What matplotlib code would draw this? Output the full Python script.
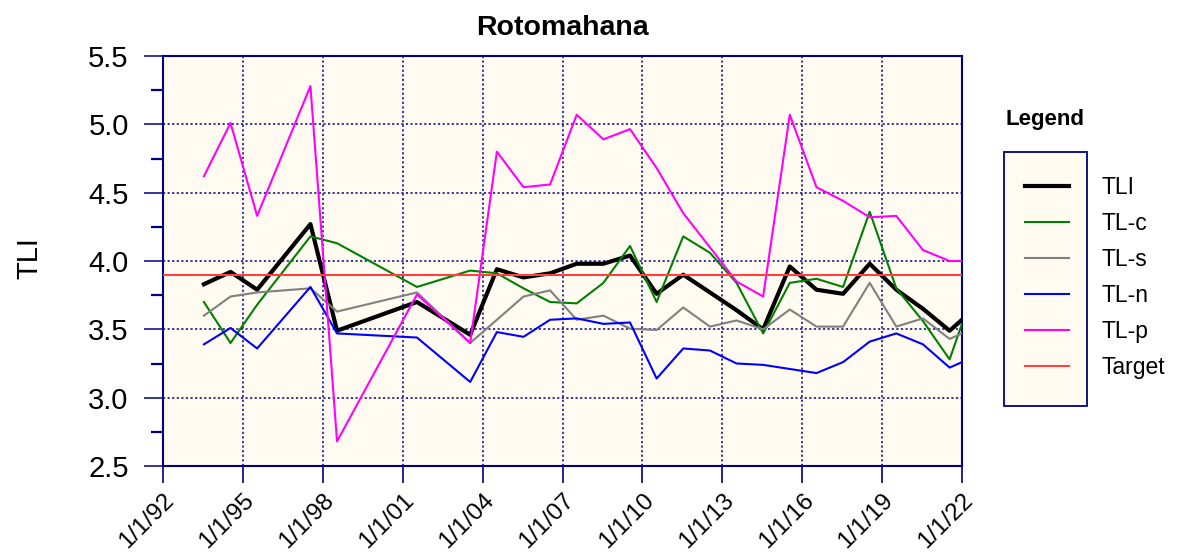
import matplotlib
matplotlib.use("Agg")
import matplotlib.pyplot as plt
import matplotlib.dates as mdates
import matplotlib.transforms as mtransforms
from matplotlib.patches import Rectangle
from matplotlib.ticker import MultipleLocator, FuncFormatter
import datetime as dt

plt.rcParams['font.family'] = ['Liberation Sans', 'DejaVu Sans']

# ---- data ----
dates = ["1993-07-15", "1994-07-15", "1995-07-15", "1997-07-15", "1998-07-15",
         "2001-07-15", "2003-07-15", "2004-07-15", "2005-07-15", "2006-07-15",
         "2007-07-15", "2008-07-15", "2009-07-15", "2010-07-15", "2011-07-15",
         "2012-07-15", "2013-07-15", "2014-07-15", "2015-07-15", "2016-07-15",
         "2017-07-15", "2018-07-15", "2019-07-15", "2020-07-15", "2021-07-15",
         "2022-01-01"]
tli = [3.83, 3.92, 3.79, 4.27, 3.49, 3.70, 3.46, 3.94, 3.88, 3.91, 3.98, 3.98, 4.04,
       3.76, 3.90, 3.77, 3.64, 3.50, 3.96, 3.79, 3.76, 3.98, 3.79, 3.65, 3.49, 3.57]
tl_c = [3.70, 3.40, 3.68, 4.18, 4.13, 3.81, 3.93, 3.91, 3.80, 3.70, 3.69, 3.84, 4.11,
        3.70, 4.18, 4.06, 3.84, 3.47, 3.84, 3.87, 3.81, 4.36, 3.80, 3.56, 3.28, 3.54]
tl_s = [3.60, 3.74, 3.77, 3.80, 3.63, 3.77, 3.40, 3.57, 3.74, 3.785, 3.57, 3.60, 3.505,
        3.495, 3.66, 3.52, 3.565, 3.50, 3.645, 3.52, 3.52, 3.84, 3.52, 3.58, 3.43, 3.47]
tl_n = [3.39, 3.51, 3.36, 3.81, 3.47, 3.44, 3.115, 3.48, 3.445, 3.57, 3.58, 3.54, 3.55,
        3.14, 3.36, 3.345, 3.25, 3.24, 3.21, 3.18, 3.26, 3.41, 3.47, 3.39, 3.22, 3.26]
tl_p = [4.62, 5.01, 4.33, 5.28, 2.68, 3.755, 3.40, 4.80, 4.54, 4.56, 5.07, 4.89, 4.965,
        4.68, 4.35, 4.10, 3.85, 3.74, 5.07, 4.54, 4.44, 4.32, 4.33, 4.08, 4.00, 4.00]
target = 3.9

series_labels = ["TLI", "TL-c", "TL-s", "TL-n", "TL-p", "Target"]
tick_years = list(range(1992, 2023, 3))

# ---- styling ----
NAVY = "#000080"
CREAM = "#FFFBF0"
W, H = 1182, 557

fig = plt.figure(figsize=(W / 100, H / 100), dpi=100)
ax = fig.add_axes([163 / W, 1 - 466 / H, (962 - 163) / W, (466 - 56) / H])
ax.set_facecolor(CREAM)

x = [dt.datetime.strptime(d, "%Y-%m-%d") for d in dates]

l1, = ax.plot(x, tli, color="black", lw=3.0, label=series_labels[0], zorder=3)
l2, = ax.plot(x, tl_c, color="#008000", lw=1.5, label=series_labels[1], zorder=3)
l3, = ax.plot(x, tl_s, color="#808080", lw=1.5, label=series_labels[2], zorder=3)
l4, = ax.plot(x, tl_n, color="#0000FF", lw=1.5, label=series_labels[3], zorder=3)
l5, = ax.plot(x, tl_p, color="#FF00FF", lw=1.5, label=series_labels[4], zorder=3)
l6 = ax.axhline(target, color="#FF4040", lw=1.5, label=series_labels[5], zorder=4)

ax.set_xlim(dt.datetime(1992, 1, 1), dt.datetime(2022, 1, 1))
ax.set_ylim(2.5, 5.5)

ax.set_xticks([dt.datetime(y, 1, 1) for y in tick_years])
ax.xaxis.set_major_formatter(FuncFormatter(
    lambda v, p: (lambda d: f"{d.month}/{d.day}/{d.strftime('%y')}")(mdates.num2date(v))))
ax.yaxis.set_major_locator(MultipleLocator(0.5))
ax.yaxis.set_minor_locator(MultipleLocator(0.25))
ax.yaxis.set_major_formatter(FuncFormatter(lambda v, p: f"{v:.1f}"))

ax.grid(True, which="major", color=NAVY, lw=1.1, linestyle=(0, (1.4, 1.6)), zorder=1)
ax.set_axisbelow(True)

for s in ax.spines.values():
    s.set_color(NAVY)
    s.set_linewidth(1.5)

ax.tick_params(axis="y", which="major", length=13.7, width=1.1, color=NAVY,
               labelsize=21, pad=11)
ax.tick_params(axis="y", which="minor", length=8.6, width=1.6, color=NAVY)
ax.tick_params(axis="x", which="major", length=12.2, width=1.2, color=NAVY,
               labelsize=17.5, pad=10)
offset = mtransforms.ScaledTranslation(0.08, 0, fig.dpi_scale_trans)
for lab in ax.get_xticklabels():
    lab.set_rotation(45)
    lab.set_ha("right")
    lab.set_va("center")
    lab.set_rotation_mode("anchor")
    lab.set_transform(lab.get_transform() + offset)

ax.set_title("Rotomahana", fontsize=20.5, fontweight="bold", pad=15)
ax.set_ylabel("TLI", fontsize=21)
ax.yaxis.set_label_coords((43.5 - 163) / 799, 0.507)

# ---- legend ----
fig.patches.append(Rectangle((1004 / W, 1 - 406 / H), 83 / W, 254 / H,
                             transform=fig.transFigure, facecolor=CREAM,
                             edgecolor=NAVY, lw=1.3, zorder=0))
fig.text(1005 / W, 1 - 125 / H, "Legend", fontsize=16, fontweight="bold",
         ha="left", va="baseline")
leg = fig.legend(handles=[l1, l2, l3, l4, l5, l6], loc="upper left",
                 bbox_to_anchor=(1025 / W, 1 - 176 / H), frameon=False,
                 fontsize=16.5, handlelength=1.9, handletextpad=1.45,
                 labelspacing=0.565, borderpad=0, borderaxespad=0)

fig.savefig("out.png", dpi=100)
